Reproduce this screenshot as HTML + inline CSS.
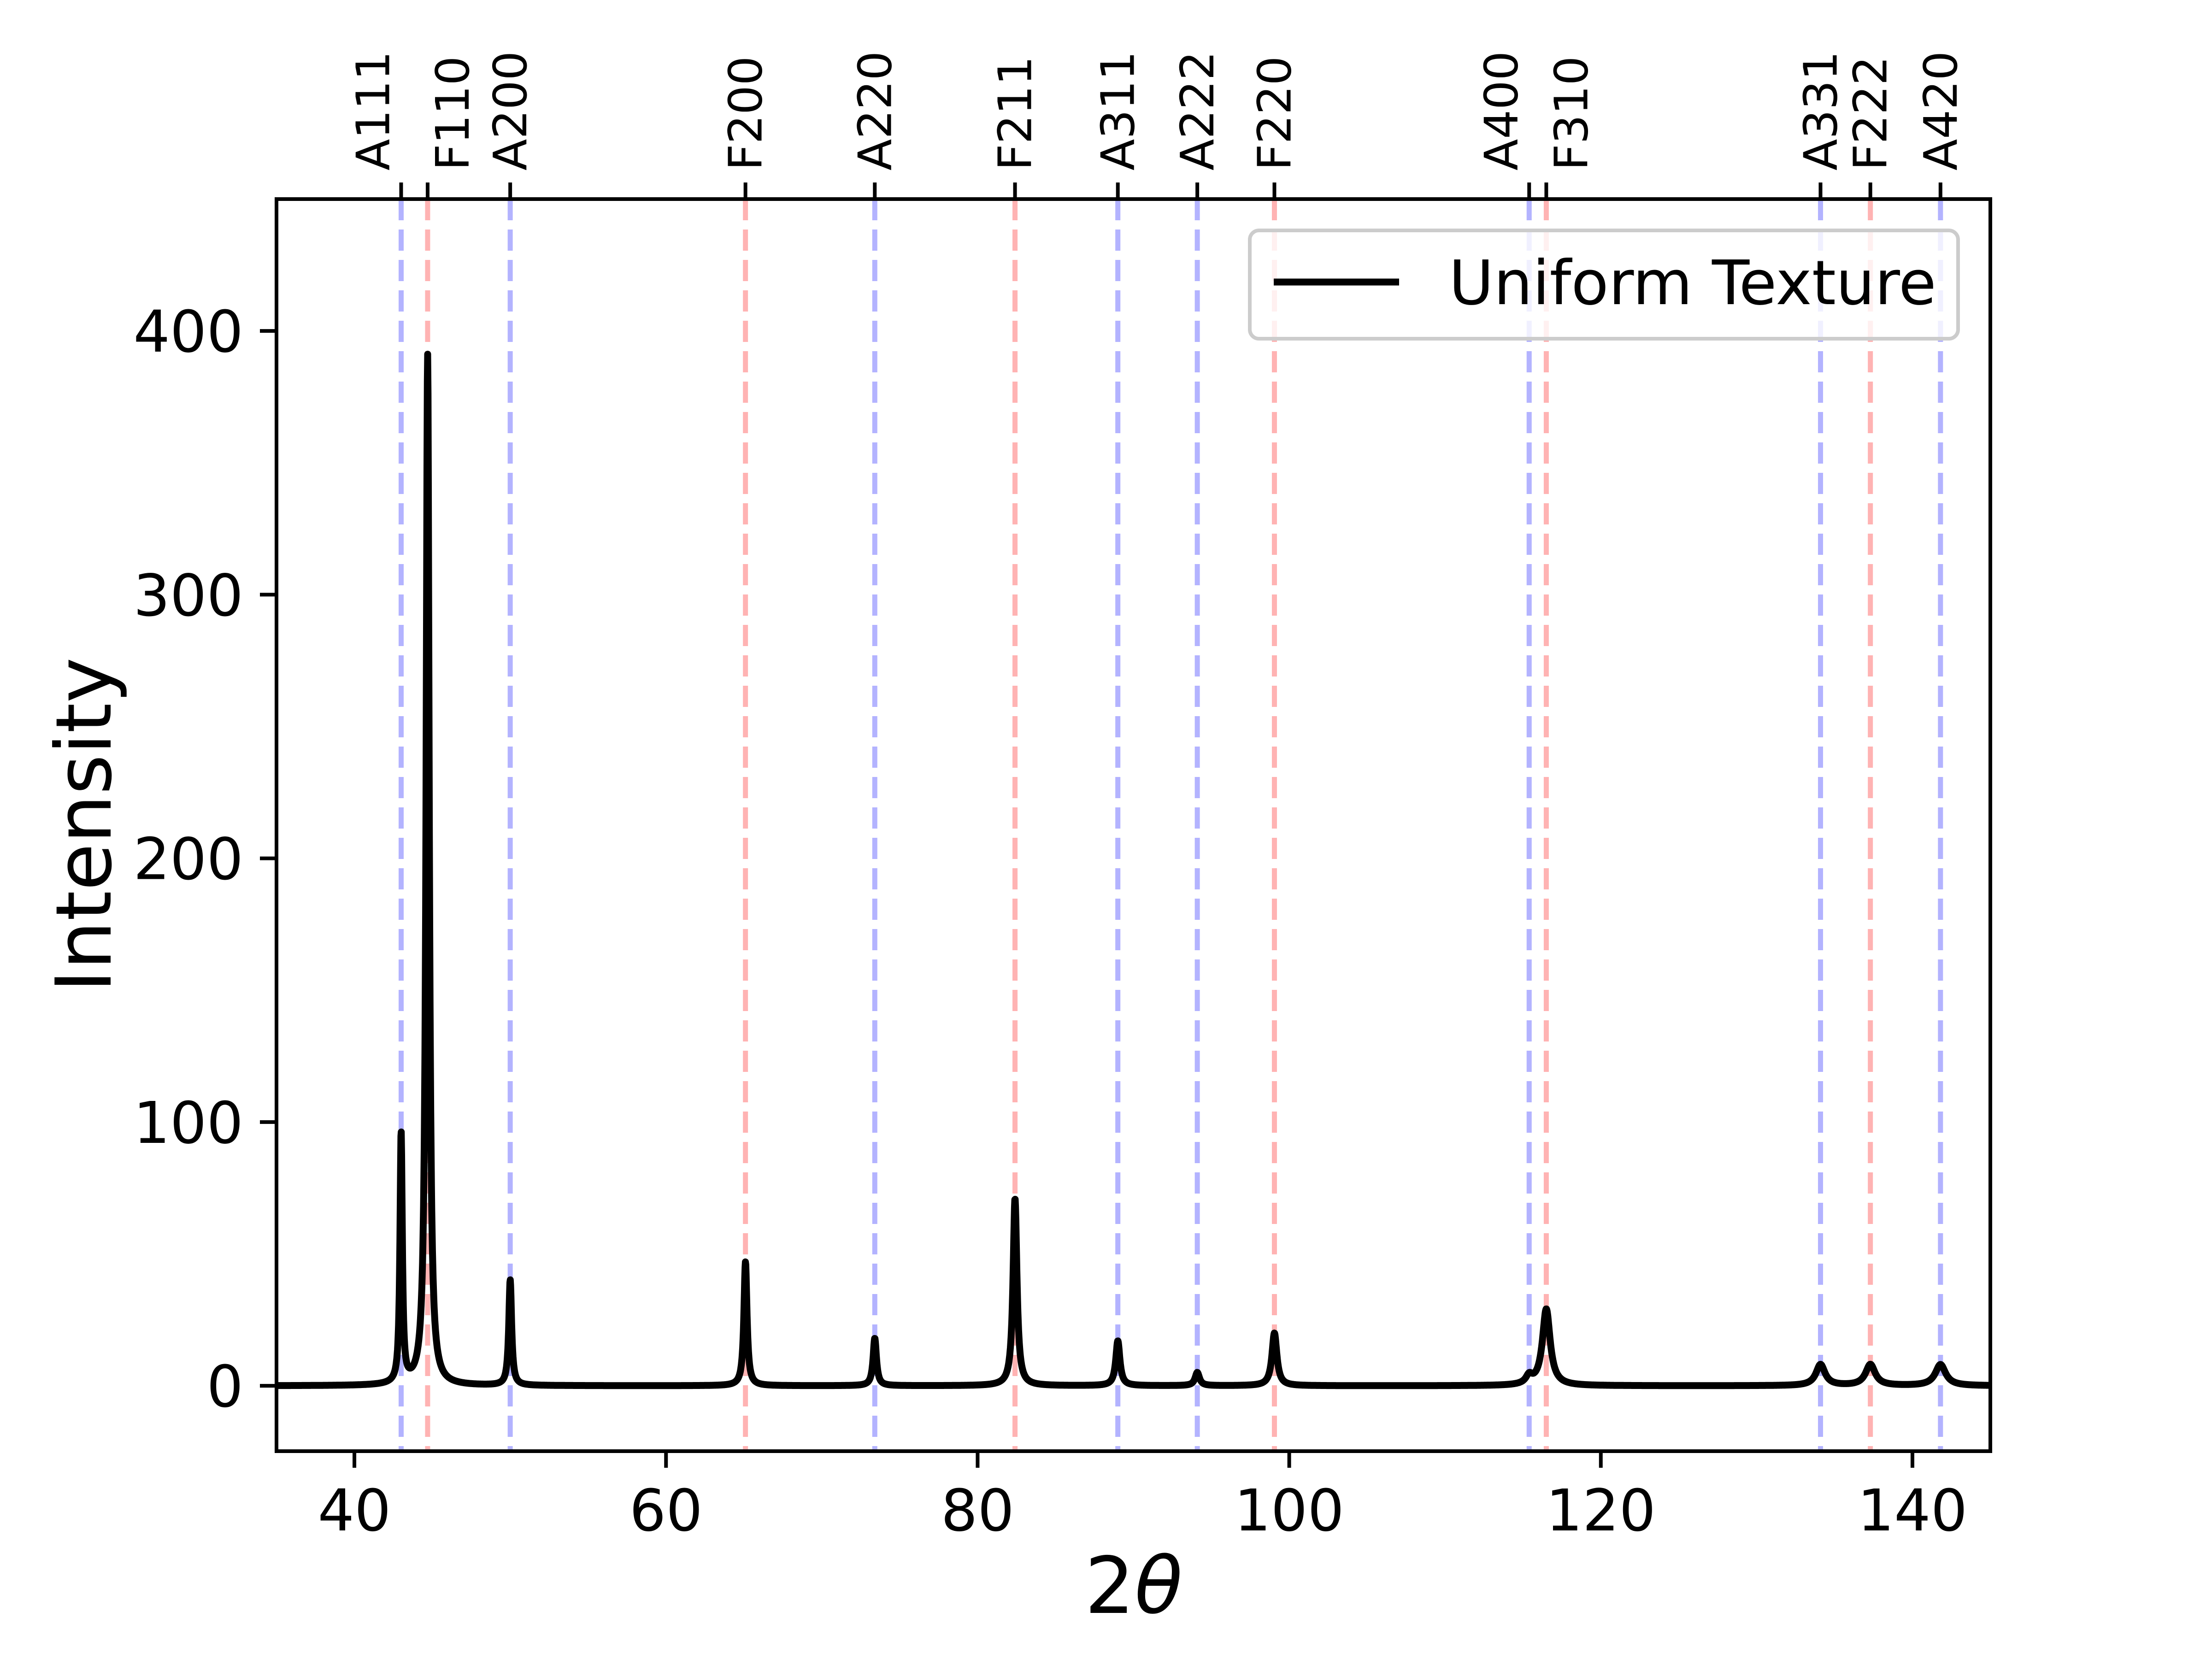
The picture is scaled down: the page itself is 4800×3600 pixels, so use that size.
<!DOCTYPE html>
<html><head><meta charset="utf-8"><style>
html,body{margin:0;padding:0;background:#fff}
svg{display:block}
text{font-family:"DejaVu Sans","Liberation Sans",sans-serif;fill:#000}
</style></head><body>
<svg id="chart" width="4800" height="3600" viewBox="0 0 4800 3600" xmlns="http://www.w3.org/2000/svg">
<rect width="4800" height="3600" fill="#fff"/>
<g id="refLines"></g>
<g id="series"></g>
<g id="axes"></g>
<g>
<rect x="2712" y="500" width="1537" height="235" rx="20" fill="#fff" fill-opacity="0.8" stroke="#cccccc" stroke-width="8"/>
<line x1="2764" y1="612" x2="3036" y2="612" stroke="#000" stroke-width="15"/>
<text x="3144" y="660" font-size="133">Uniform Texture</text>
</g>
<text x="2460" y="3500" font-size="170" text-anchor="middle">2<tspan font-style="italic">θ</tspan></text>
<text transform="translate(240,1790) rotate(-90)" font-size="167" text-anchor="middle">Intensity</text>
</svg>
<script>
const peakLabels = ["A111","F110","A200","F200","A220","F211","A311","A222","F220","A400","F310","A331","F222","A420"];
const peakPositions = [43.0,44.7,50.0,65.1,73.4,82.4,89.0,94.1,99.05,115.4,116.5,134.1,137.3,141.8];
const peakHeights = [95,391,40,47,18,71,17,5,20,3,29,8,8,8];
const peakHWHM = [0.09,0.12,0.11,0.12,0.13,0.15,0.16,0.17,0.19,0.25,0.3,0.35,0.37,0.4];
const labelOffsetsDeg = [-1.8,1.6,0,0,0,0,0,0,0,-1.8,1.6,0,0,0];
const xTicks = [40,60,80,100,120,140];
const yTicks = [0,100,200,300,400];

const L=600,R=4319,T=432,B=3149;
const xMin=35,xMax=145,yMin=-24.8,yMax=450;
const sx=v=>L+(v-xMin)/(xMax-xMin)*(R-L);
const sy=v=>B-(v-yMin)/(yMax-yMin)*(B-T);
const NS="http://www.w3.org/2000/svg";
function mk(tag,attrs,parent){const e=document.createElementNS(NS,tag);for(const k in attrs)e.setAttribute(k,attrs[k]);parent.appendChild(e);return e;}

const refG=document.getElementById('refLines');
const axG=document.getElementById('axes');
const serG=document.getElementById('series');

peakLabels.forEach((lab,i)=>{
  const x=sx(peakPositions[i]);
  const lx=sx(peakPositions[i]+labelOffsetsDeg[i]);
  const col=lab[0]==='A'?'#b3b3ff':'#ffb3b3';
  const ln=mk('line',{x1:x,y1:T,x2:x,y2:B,stroke:col,'stroke-width':11,'stroke-dasharray':'46 20'},refG);
  
  
  const tk=mk('line',{x1:x,y1:T,x2:x,y2:T-36,stroke:'#000','stroke-width':8},axG);
  
  
  const tx=mk('text',{transform:`translate(${lx+35},${T-62}) rotate(-90)`,'font-size':100},axG);
  tx.textContent=lab;
  
  
});

let d='';
const N=5000;
for(let j=0;j<=N;j++){
  const x=xMin+(xMax-xMin)*j/N;
  let y=0;
  for(let i=0;i<peakPositions.length;i++){
    const g=peakHWHM[i];const dx=x-peakPositions[i];
    y+=peakHeights[i]*g*g/(dx*dx+g*g);
  }
  d+=(j?'L':'M')+sx(x).toFixed(1)+' '+sy(y).toFixed(1);
}
const cp=mk('clipPath',{id:'clip'},serG);
mk('rect',{x:L,y:T,width:R-L,height:B-T},cp);
const path=mk('path',{d:d,fill:'none',stroke:'#000','stroke-width':15,'stroke-linejoin':'round','clip-path':'url(#clip)'},serG);



const frame=mk('rect',{x:L,y:T,width:R-L,height:B-T,fill:'none',stroke:'#000','stroke-width':8},axG);



xTicks.forEach(v=>{
  const x=sx(v);
  const t=mk('line',{x1:x,y1:B,x2:x,y2:B+36,stroke:'#000','stroke-width':8},axG);
  
  
  const tx=mk('text',{x:x,y:B+172,'font-size':125,'text-anchor':'middle'},axG);
  tx.textContent=v;
  
  
});
yTicks.forEach(v=>{
  const y=sy(v);
  const t=mk('line',{x1:L,y1:y,x2:L-36,y2:y,stroke:'#000','stroke-width':8},axG);
  
  
  const tx=mk('text',{x:L-72,y:y+45,'font-size':125,'text-anchor':'end'},axG);
  tx.textContent=v;
  
  
});
</script>
</body></html>
